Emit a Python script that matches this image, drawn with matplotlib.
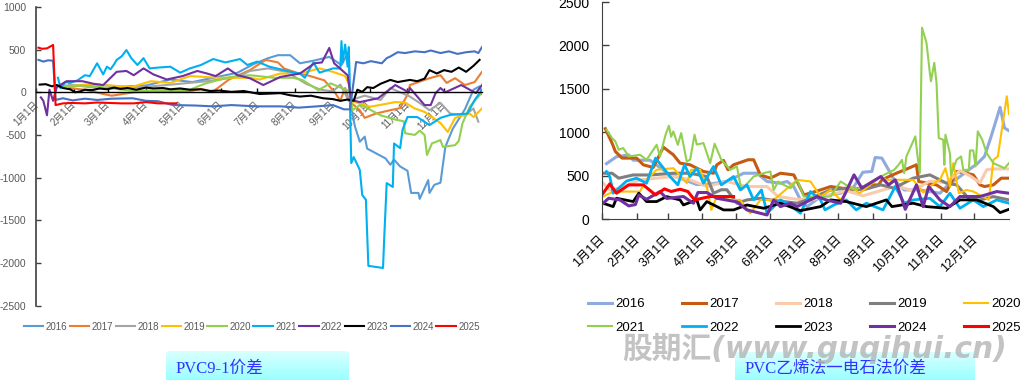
import numpy as np
import matplotlib
matplotlib.use('Agg')
import matplotlib.pyplot as plt
from matplotlib.patches import FancyBboxPatch
from matplotlib.transforms import ScaledTranslation

plt.rcParams['font.family'] = ['Liberation Sans', 'Noto Sans CJK SC', 'DejaVu Sans']
plt.rcParams['axes.unicode_minus'] = False

years = ['2016', '2017', '2018', '2019', '2020', '2021', '2022', '2023', '2024', '2025']
month_labels = ['1月1日', '2月1日', '3月1日', '4月1日', '5月1日', '6月1日', '7月1日', '8月1日',
                '9月1日', '10月1日', '11月1日', '12月1日']
month_days = [0, 31, 59, 90, 120, 151, 181, 212, 243, 273, 304, 334]

# left chart: PVC 9-1 spread
l16_d = [20, 30, 50, 70, 90, 110, 128, 145, 165, 178, 190, 198, 208, 216, 227, 240, 250, 256, 257, 261, 265, 269, 271, 286, 290, 293, 298, 304, 307, 313, 314, 321, 322, 326, 331, 335, 341, 351, 358, 363, 365]
l16_v = [85, 70, 90, 65, 80, 150, 120, 170, 230, 330, 400, 435, 435, 340, 370, 415, 320, 480, -100, -400, -580, -520, -660, -775, -850, -790, -870, -920, -1180, -1180, -1250, -1030, -1180, -1085, -1060, -640, -430, -200, 30, 70, -20]
l17_d = [27, 40, 55, 62, 80, 100, 125, 135, 145, 158, 175, 188, 198, 203, 215, 222, 236, 245, 249, 253, 256, 265, 269, 278, 290, 298, 304, 306, 322, 331, 336, 343, 351, 359, 365]
l17_v = [50, 30, -20, -40, 0, 10, 10, 40, 10, 150, 260, 380, 350, 280, 220, 200, 140, -10, -100, 50, -100, -210, -300, -250, -210, -185, -30, 85, 165, 200, 110, 165, 85, 120, 240]
l18_d = [27, 50, 70, 95, 118, 140, 165, 175, 190, 205, 213, 221, 233, 243, 249, 256, 269, 282, 290, 298, 306, 314, 322, 331, 339, 351, 358, 362]
l18_v = [90, 50, 50, 70, 100, 130, 180, 250, 280, 240, 170, 100, 30, 10, 90, -100, -40, -90, 50, 0, -50, -125, -210, -125, -250, -270, -190, -345]
l19_d = [20, 40, 61, 78, 94, 110, 126, 150, 175, 183, 200, 216, 232, 243, 253, 256, 258, 273, 281, 294, 302, 310, 318, 331, 337, 343, 355, 358, 365]
l19_v = [60, 90, 80, 60, 130, 110, 190, 170, 170, 150, 220, 220, 280, 240, 190, 100, -100, -170, -150, -115, -120, -190, -230, -360, -465, -300, -250, -290, -190]
l20_d = [20, 36, 53, 77, 93, 126, 138, 159, 175, 195, 210, 218, 231, 241, 257, 259, 265, 269, 282, 294, 301, 302, 310, 314, 318, 320, 324, 331, 333, 343, 346, 349, 355, 365]
l20_v = [70, 80, 60, 20, 20, 30, 100, 180, 200, 170, 170, 145, 25, 105, 10, -210, -150, -170, -270, -320, -340, -480, -500, -450, -500, -735, -600, -560, -640, -620, -570, -365, -170, 0]
l21_d = [18, 20, 24, 28, 34, 40, 44, 50, 55, 58, 61, 64, 66, 70, 74, 78, 83, 88, 93, 100, 110, 118, 126, 135, 145, 155, 167, 173, 181, 191, 200, 208, 216, 220, 227, 232, 243, 249, 250, 251, 253, 255, 256, 258, 260, 265, 267, 270, 271, 272, 284, 285, 287, 292, 293, 298, 300, 304, 312, 322, 331, 339, 353, 359, 365]
l21_v = [170, 50, 120, 110, 140, 200, 190, 340, 210, 300, 270, 330, 380, 420, 495, 400, 320, 400, 280, 290, 300, 230, 280, 320, 390, 350, 390, 320, 360, 300, 270, 240, 220, 170, 350, 230, 280, 280, 600, 350, 560, 300, 530, -830, -760, -910, -1205, -1260, -1650, -2035, -2060, -1700, -1065, -1110, -600, -655, -440, -290, -290, -385, -300, -265, -250, -90, 30]
l22_d = [4, 6, 9, 11, 14, 17, 25, 38, 47, 55, 66, 74, 80, 88, 96, 107, 120, 132, 140, 147, 157, 165, 175, 186, 200, 216, 228, 234, 240, 244, 255, 258, 265, 280, 294, 305, 306, 318, 323, 327, 331, 335, 348, 360, 365]
l22_v = [-60, -100, -270, 30, -100, 60, 130, 130, 100, 85, 240, 250, 200, 280, 210, 150, 190, 250, 220, 190, 280, 200, 165, 85, 180, 220, 340, 350, 520, 340, 200, -90, -115, -70, 85, 0, 50, -150, -150, -10, 50, 0, 85, -10, 85]
l23_d = [3, 8, 13, 17, 22, 28, 32, 36, 40, 46, 52, 58, 64, 69, 75, 82, 90, 96, 104, 110, 118, 126, 135, 142, 150, 160, 170, 183, 192, 200, 208, 216, 225, 235, 243, 249, 255, 260, 263, 267, 271, 276, 282, 290, 296, 306, 312, 318, 322, 328, 334, 340, 346, 352, 358, 363]
l23_v = [90, 95, 70, 85, 50, 35, 0, 10, 30, 25, 45, 35, 55, 40, 50, 30, 55, 45, 50, 35, 45, 30, 35, 15, 20, 5, 15, -20, -15, -10, -35, -50, -40, -70, -80, -100, -85, -100, 30, 5, 60, 50, 100, 145, 120, 145, 130, 160, 260, 220, 260, 240, 290, 240, 310, 380]
l24_d = [2, 6, 10, 14, 16, 22, 30, 40, 50, 62, 79, 90, 100, 112, 130, 145, 160, 180, 200, 215, 230, 243, 252, 257, 262, 268, 274, 283, 287, 290, 296, 302, 310, 318, 323, 331, 338, 345, 352, 359, 362, 365]
l24_v = [380, 360, 375, 370, -90, -70, -95, -75, -90, -75, -70, -100, -105, -150, -155, -165, -150, -165, -165, -180, -165, -150, -200, -200, 355, 340, 365, 340, 400, 420, 470, 460, 480, 470, 490, 460, 480, 450, 470, 480, 460, 530]
l25_d = [2, 5, 9, 14, 16, 22, 30, 40, 50, 60, 70, 80, 90, 100, 115]
l25_v = [523, 510, 515, 555, -150, -130, -125, -130, -120, -125, -130, -130, -115, -130, -130]

# right chart: ethylene vs carbide PVC spread
r16_d = [4, 13, 24, 28, 43, 60, 85, 94, 112, 127, 139, 148, 160, 166, 172, 178, 184, 196, 214, 226, 234, 242, 245, 251, 257, 262, 271, 285, 303, 309, 321, 337, 343, 349, 357, 361, 365]
r16_v = [640, 720, 740, 680, 680, 520, 400, 400, 435, 530, 530, 435, 415, 435, 375, 223, 146, 261, 300, 377, 542, 550, 711, 704, 569, 454, 338, 338, 300, 377, 492, 646, 723, 954, 1288, 1050, 1019]
r17_d = [3, 9, 12, 18, 31, 37, 46, 55, 64, 70, 79, 91, 100, 103, 109, 113, 118, 124, 131, 136, 142, 151, 160, 172, 181, 196, 205, 226, 240, 248, 251, 264, 275, 282, 284, 300, 309, 318, 327, 333, 339, 343, 351, 358, 364]
r17_v = [1042, 877, 780, 704, 704, 627, 596, 830, 742, 646, 627, 550, 530, 627, 677, 570, 627, 654, 685, 685, 511, 473, 530, 511, 280, 338, 377, 338, 396, 396, 454, 530, 588, 627, 435, 396, 319, 550, 530, 511, 396, 377, 396, 473, 473]
r18_d = [1, 7, 16, 34, 64, 79, 94, 112, 130, 148, 158, 175, 190, 219, 234, 250, 264, 279, 294, 309, 321, 330, 339, 345, 351, 365]
r18_v = [415, 338, 358, 454, 492, 454, 377, 435, 377, 377, 261, 230, 230, 330, 270, 330, 380, 330, 440, 420, 560, 500, 420, 570, 580, 580]
r19_d = [1, 9, 15, 28, 43, 64, 79, 94, 100, 107, 112, 121, 130, 142, 151, 175, 184, 205, 219, 234, 250, 262, 279, 294, 309, 318, 330, 339, 351, 365]
r19_v = [530, 530, 473, 510, 510, 530, 530, 492, 300, 340, 340, 185, 223, 242, 223, 185, 223, 338, 358, 338, 396, 358, 473, 511, 415, 396, 223, 223, 261, 223]
r20_d = [1, 10, 34, 40, 49, 64, 76, 80, 88, 94, 98, 103, 115, 124, 133, 142, 154, 175, 187, 196, 205, 214, 223, 231, 250, 255, 279, 288, 300, 303, 308, 312, 315, 320, 327, 333, 347, 351, 355, 363, 365]
r20_v = [262, 319, 319, 454, 570, 588, 415, 570, 570, 377, 108, 262, 223, 223, 69, 223, 223, 454, 435, 262, 338, 223, 377, 300, 492, 454, 454, 308, 435, 454, 588, 377, 646, 300, 338, 320, 223, 684, 723, 1415, 1211]
r21_d = [4, 9, 12, 15, 19, 24, 34, 40, 49, 52, 57, 60, 62, 64, 68, 71, 76, 79, 83, 85, 91, 97, 101, 107, 115, 121, 125, 136, 145, 151, 154, 158, 160, 169, 175, 181, 196, 205, 214, 226, 234, 250, 262, 266, 269, 271, 273, 281, 283, 285, 287, 291, 294, 295, 298, 300, 302, 306, 307, 308, 312, 313, 318, 322, 324, 329, 330, 333, 335, 337, 341, 345, 351, 361, 365]
r21_v = [1030, 935, 896, 800, 820, 723, 742, 685, 857, 723, 973, 1077, 950, 1011, 857, 992, 665, 685, 973, 860, 877, 646, 869, 685, 569, 608, 338, 492, 531, 550, 338, 435, 415, 358, 454, 262, 262, 262, 435, 338, 377, 492, 569, 627, 684, 531, 723, 954, 723, 531, 2204, 2031, 1685, 1588, 1800, 1569, 935, 915, 627, 973, 761, 511, 685, 723, 569, 569, 792, 792, 608, 1011, 915, 761, 646, 588, 646]
r22_d = [4, 7, 10, 15, 22, 31, 40, 48, 54, 61, 68, 74, 79, 85, 91, 100, 107, 118, 124, 130, 136, 143, 148, 154, 160, 166, 178, 187, 196, 200, 208, 219, 228, 237, 252, 263, 271, 279, 294, 303, 312, 321, 333, 342, 354, 365]
r22_v = [550, 492, 300, 358, 440, 473, 415, 704, 607, 492, 396, 627, 492, 588, 415, 607, 396, 492, 338, 396, 223, 338, 70, 146, 223, 185, 70, 319, 223, 108, 165, 223, 108, 185, 108, 377, 185, 223, 242, 146, 300, 127, 223, 146, 223, 185]
r23_d = [1, 10, 13, 28, 33, 40, 49, 58, 70, 73, 85, 88, 94, 109, 118, 130, 145, 160, 178, 196, 205, 219, 237, 255, 260, 279, 291, 309, 321, 336, 351, 357, 365]
r23_v = [185, 146, 242, 204, 300, 204, 204, 261, 223, 165, 223, 108, 204, 108, 108, 165, 127, 185, 100, 146, 223, 204, 146, 223, 146, 185, 146, 127, 223, 223, 146, 77, 115]
r24_d = [1, 6, 16, 24, 30, 33, 40, 52, 58, 73, 82, 86, 94, 103, 121, 130, 148, 154, 160, 169, 175, 193, 201, 214, 226, 233, 250, 257, 263, 272, 282, 288, 293, 303, 312, 321, 339, 354, 365]
r24_v = [185, 242, 223, 154, 170, 280, 230, 319, 240, 262, 185, 308, 308, 242, 200, 108, 50, 223, 146, 185, 146, 262, 223, 185, 511, 358, 492, 396, 454, 115, 396, 146, 377, 223, 146, 262, 262, 319, 300]
r25_d = [1, 7, 13, 24, 37, 48, 56, 62, 70, 77, 83, 97, 118]
r25_v = [300, 408, 300, 396, 396, 280, 350, 320, 346, 320, 223, 262, 262]

left_days = [l16_d, l17_d, l18_d, l19_d, l20_d, l21_d, l22_d, l23_d, l24_d, l25_d]
left_vals = [l16_v, l17_v, l18_v, l19_v, l20_v, l21_v, l22_v, l23_v, l24_v, l25_v]
right_days = [r16_d, r17_d, r18_d, r19_d, r20_d, r21_d, r22_d, r23_d, r24_d, r25_d]
right_vals = [r16_v, r17_v, r18_v, r19_v, r20_v, r21_v, r22_v, r23_v, r24_v, r25_v]

left_colors = ['#5B9BD5', '#ED7D31', '#A5A5A5', '#FFC000', '#92D050', '#00B0F0', '#7030A0', '#000000', '#4472C4', '#FF0000']
right_colors = ['#8FAADC', '#C55A11', '#F8CBAD', '#7F7F7F', '#FFC000', '#92D050', '#00B0F0', '#000000', '#7030A0', '#FF0000']
right_widths = [2.2, 2.2, 2.2, 2.2, 1.5, 1.5, 2.0, 2.0, 2.2, 2.2]

W, H = 1023, 380
fig = plt.figure(figsize=(W / 100, H / 100), dpi=100)


def px_axes(x0, x1, ytop, ybot):
    return fig.add_axes([x0 / W, 1 - ybot / H, (x1 - x0) / W, (ybot - ytop) / H])


def nudge_labels(axis, dx):
    # month labels sit a few pixels left of where rotation_mode puts them
    for label in axis.get_xticklabels():
        label.set_transform(label.get_transform() + ScaledTranslation(dx / 100, 0, fig.dpi_scale_trans))


# left chart
ax = px_axes(36, 482, 7, 305.5)
ax.spines['bottom'].set_position(('data', 0))
for i in range(10):
    ax.plot(left_days[i], left_vals[i], color=left_colors[i], lw=1.5, label=years[i], solid_joinstyle='round')
ax.set_xlim(0, 365)
ax.set_ylim(-2500, 1000)
ax.set_yticks(np.arange(-2500, 1001, 500))
ax.tick_params(axis='y', direction='in', length=3.5, width=1, labelsize=7.5, labelcolor='#595959', color='#404040', pad=7)
ax.set_xticks(month_days)
ax.set_xticklabels(month_labels, rotation=45, ha='right', rotation_mode='anchor', fontsize=7, color='#595959')
ax.tick_params(axis='x', direction='in', length=3, width=1, color='black', pad=5)
nudge_labels(ax, -3)
ax.spines['top'].set_visible(False)
ax.spines['right'].set_visible(False)
ax.spines['left'].set_color('#404040')
ax.spines['left'].set_linewidth(1.2)
ax.spines['bottom'].set_color('black')
ax.spines['bottom'].set_linewidth(1)
ax.patch.set_alpha(0)
fig.legend(*ax.get_legend_handles_labels(), loc='center left', bbox_to_anchor=(24 / W, 1 - 326.5 / H), ncol=10,
           frameon=False, fontsize=7, handlelength=2.0, handletextpad=0.25, columnspacing=0.25,
           labelcolor='#595959', borderpad=0, borderaxespad=0)

# right chart
ax2 = px_axes(602, 1009, 2, 219.3)
for i in range(10):
    ax2.plot(right_days[i], right_vals[i], color=right_colors[i], lw=right_widths[i], label=years[i], solid_joinstyle='round')
ax2.set_xlim(0, 365)
ax2.set_ylim(0, 2500)
ax2.set_yticks(np.arange(0, 2501, 500))
ax2.tick_params(axis='y', direction='in', length=5, width=1, labelsize=10, labelcolor='black', color='#404040', pad=9)
ax2.set_xticks(month_days)
ax2.set_xticklabels(month_labels, rotation=45, ha='right', rotation_mode='anchor', fontsize=9, color='black')
ax2.tick_params(axis='x', direction='in', length=4, width=1, color='#404040', pad=10)
nudge_labels(ax2, -3)
ax2.spines['top'].set_visible(False)
ax2.spines['right'].set_visible(False)
ax2.spines['left'].set_color('#404040')
ax2.spines['bottom'].set_color('#404040')
ax2.patch.set_alpha(0)
h2, l2 = ax2.get_legend_handles_labels()
order = [0, 5, 1, 6, 2, 7, 3, 8, 4, 9]
fig.legend([h2[i] for i in order], [l2[i] for i in order], loc='upper left', bbox_to_anchor=(588 / W, 1 - 298 / H),
           ncol=5, frameon=False, fontsize=9.5, handlelength=1.85, handletextpad=0.2, columnspacing=2.83,
           labelspacing=0.85, borderpad=0, borderaxespad=0)

# caption boxes and watermark sit on one overlay in pixel coordinates
over = fig.add_axes([0, 0, 1, 1])
over.set_xlim(0, W)
over.set_ylim(H, 0)
over.axis('off')
over.patch.set_alpha(0)
grad = np.linspace(0, 1, 64).reshape(-1, 1)
cmap = matplotlib.colors.LinearSegmentedColormap.from_list('box', ['#D9FFFF', '#9BFFFF'])


def caption(x0, x1, y0, y1, text):
    box = FancyBboxPatch((x0 + 3, y0 + 3), x1 - x0 - 6, y1 - y0 - 3, boxstyle='round,pad=3', fc='none', ec='none')
    over.add_patch(box)
    im = over.imshow(grad, extent=(x0, x1, y1, y0), cmap=cmap, aspect='auto', zorder=1)
    im.set_clip_path(box)
    over.text(x0 + 10, (y0 + y1) / 2 + 3, text, fontsize=12, color='#3333FF', va='center', zorder=2,
              family=['Liberation Serif', 'Noto Sans CJK SC'])


caption(166, 349, 351, 380, 'PVC9-1价差')
caption(735, 975, 352, 380, 'PVC乙烯法一电石法价差')
over.set_xlim(0, W)
over.set_ylim(H, 0)
over.text(622, 348, '股期汇(www.guqihui.cn)', fontsize=21.4, weight='bold', style='italic', color='#B4B4B4', alpha=0.8,
          va='center', zorder=3, family=['DejaVu Sans', 'Noto Sans CJK SC'])

fig.savefig('out.png', dpi=100)
